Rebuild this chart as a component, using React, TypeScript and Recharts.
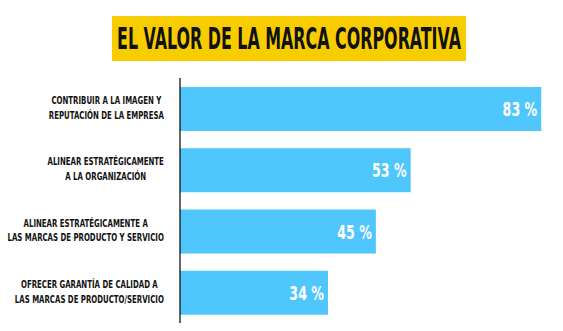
import React from "react";
import { BarChart, Bar, XAxis, YAxis, LabelList } from "recharts";

const title = "EL VALOR DE LA MARCA CORPORATIVA";
const categories = [
  "CONTRIBUIR A LA IMAGEN Y\nREPUTACIÓN DE LA EMPRESA",
  "ALINEAR ESTRATÉGICAMENTE\nA LA ORGANIZACIÓN",
  "ALINEAR ESTRATÉGICAMENTE A\nLAS MARCAS DE PRODUCTO Y SERVICIO",
  "OFRECER GARANTÍA DE CALIDAD A\nLAS MARCAS DE PRODUCTO/SERVICIO",
];
const values = [83, 53, 45, 34];

const data = categories.map((name, i) => ({ name, value: values[i] }));

const FONT = '"DejaVu Sans Condensed", "DejaVu Sans", sans-serif';
const LABEL_SIZE = 10.5;
const LABEL_SCALE = 0.74;
const VALUE_SIZE = 19.5;
const VALUE_SCALE = 0.72;

let ctx: CanvasRenderingContext2D | null = null;
function measure(text: string, size: number): number {
  if (!ctx) {
    const c = document.createElement("canvas");
    ctx = c.getContext("2d");
  }
  if (!ctx) return text.length * size * 0.6;
  ctx.font = `bold ${size}px ${FONT}`;
  return ctx.measureText(text).width;
}

const CategoryTick = (props: any) => {
  const { x, y, payload } = props;
  const lines: string[] = String(payload.value).split("\n");
  const maxW = Math.max(...lines.map((l) => measure(l, LABEL_SIZE))) * LABEL_SCALE;
  const right = x - 8;
  const cx = right - maxW / 2;
  return (
    <g>
      {lines.map((l, i) => (
        <text
          key={i}
          transform={`translate(${cx},${y - 4.5 + i * 14.7}) scale(${LABEL_SCALE},1)`}
          x={0}
          y={0}
          textAnchor="middle"
          fontFamily={FONT}
          fontWeight="bold"
          fontSize={LABEL_SIZE}
          fill="#111"
        >
          {l}
        </text>
      ))}
    </g>
  );
};

const ValueLabel = (props: any) => {
  const { x, y, width, height, value } = props;
  const ax = Number(x) + Number(width) - 4;
  const ay = Number(y) + Number(height) / 2 + VALUE_SIZE * 0.36;
  return (
    <text
      transform={`translate(${ax},${ay}) scale(${VALUE_SCALE},1)`}
      x={0}
      y={0}
      textAnchor="end"
      fontFamily={FONT}
      fontWeight="bold"
      fontSize={VALUE_SIZE}
      fill="#fff"
    >
      {`${value} %`}
    </text>
  );
};

const TITLE_SIZE = 31;

export default function App() {
  const titleW = measure(title, TITLE_SIZE);
  const titleScale = 344 / titleW;
  return (
    <div style={{ position: "absolute", left: 0, top: 0, width: 563, height: 331, background: "#fff" }}>
      <svg width={563} height={70} style={{ position: "absolute", left: 0, top: 0 }}>
        <rect x={112} y={16} width={354} height={45} fill="#F8CD00" />
        <text
          transform={`translate(289,49) scale(${titleScale},1)`}
          x={0}
          y={0}
          textAnchor="middle"
          fontFamily={FONT}
          fontWeight="bold"
          fontSize={TITLE_SIZE}
          fill="#111"
        >
          {title}
        </text>
      </svg>
      <div style={{ position: "absolute", left: 0, top: 0 }}>
        <BarChart
          width={563}
          height={331}
          data={data}
          layout="vertical"
          margin={{ top: 78, right: 0, bottom: 8, left: 0 }}
          barCategoryGap={0}
        >
          <XAxis type="number" hide domain={[0, 88]} />
          <YAxis
            type="category"
            dataKey="name"
            width={180}
            axisLine={{ stroke: "#000", strokeWidth: 1.2 }}
            tickLine={false}
            tick={<CategoryTick />}
            interval={0}
          />
          <Bar dataKey="value" fill="#4FC6FC" barSize={44} isAnimationActive={false}>
            <LabelList dataKey="value" content={<ValueLabel />} />
          </Bar>
        </BarChart>
      </div>
    </div>
  );
}
